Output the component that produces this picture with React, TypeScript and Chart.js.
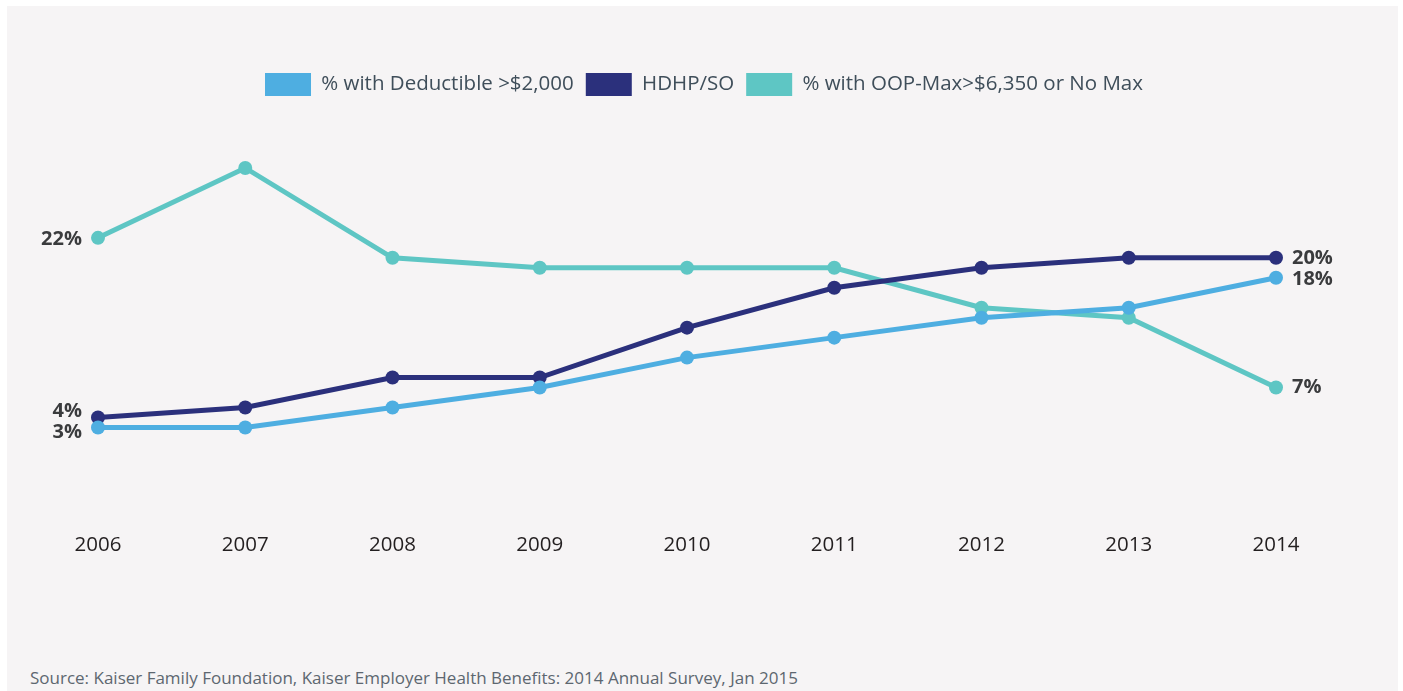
import React, { useEffect, useRef } from "react";
import { Chart, registerables } from "chart.js";

Chart.register(...registerables);

const years = ["2006", "2007", "2008", "2009", "2010", "2011", "2012", "2013", "2014"];
const deductibleOver2000 = [3, 3, 5, 7, 10, 12, 14, 15, 18];
const hdhpSo = [4, 5, 8, 8, 13, 17, 19, 20, 20];
const oopMaxOrNoMax = [22, 29, 20, 19, 19, 19, 15, 14, 7];
const seriesNames = ["% with Deductible >$2,000", "HDHP/SO", "% with OOP-Max>$6,350 or No Max"];
const sourceText = "Source: Kaiser Family Foundation, Kaiser Employer Health Benefits: 2014 Annual Survey, Jan 2015";

const COLORS = ["#4eaee1", "#2b307c", "#5ec6c4"];
const FONT = "'Open Sans', sans-serif";
// small vertical nudges for end labels [dataset][left,right] to avoid overlaps
const LABEL_DY = [
  [5, 2],
  [-6, 0],
  [1, 0],
];

const endLabels = {
  id: "endLabels",
  afterDatasetsDraw(chart: any) {
    const ctx = chart.ctx;
    ctx.save();
    ctx.font = `bold 20px ${FONT}`;
    ctx.fillStyle = "#3a3b3d";
    ctx.textBaseline = "middle";
    chart.data.datasets.forEach((ds: any, i: number) => {
      const meta = chart.getDatasetMeta(i);
      const pts = meta.data;
      const first = pts[0];
      const last = pts[pts.length - 1];
      ctx.textAlign = "right";
      ctx.fillText(ds.data[0] + "%", first.x - 16, first.y + LABEL_DY[i][0]);
      ctx.textAlign = "left";
      ctx.fillText(ds.data[ds.data.length - 1] + "%", last.x + 16, last.y + LABEL_DY[i][1]);
    });
    ctx.restore();
  },
};

const legendGap = {
  id: "legendGap",
  beforeInit(chart: any) {
    const legend = chart.legend;
    if (!legend) return;
    const orig = legend.fit;
    legend.fit = function () {
      orig.call(this);
      this.height += 52;
    };
  },
};

export default function App() {
  const ref = useRef<HTMLCanvasElement | null>(null);
  useEffect(() => {
    if (!ref.current) return;
    const values = [deductibleOver2000, hdhpSo, oopMaxOrNoMax];
    const defaultLabels = (Chart.defaults as any).plugins.legend.labels.generateLabels;
    const chart = new Chart(ref.current, {
      type: "line",
      data: {
        labels: years,
        datasets: values.map((v, i) => ({
          label: seriesNames[i],
          data: v,
          borderColor: COLORS[i],
          backgroundColor: COLORS[i],
          pointBackgroundColor: COLORS[i],
          pointBorderWidth: 0,
          pointRadius: 7,
          borderWidth: 5,
          clip: false as any,
          tension: 0,
        })),
      },
      options: {
        animation: false,
        responsive: false,
        maintainAspectRatio: false,
        layout: { padding: { left: 91, right: 88, top: 55, bottom: 14 } },
        plugins: {
          tooltip: { enabled: false },
          legend: {
            display: true,
            position: "top",
            labels: {
              boxWidth: 46,
              boxHeight: 23,
              padding: 12,
              color: "#3f4e5a",
              font: { family: FONT, size: 20.5 },
              generateLabels: (c: any) =>
                defaultLabels(c).map((l: any) => ({ ...l, lineWidth: 0, strokeStyle: l.fillStyle })),
            },
          },
        },
        scales: {
          x: {
            offset: false,
            grid: { display: false, drawTicks: false },
            border: { display: false },
            ticks: {
              padding: 75,
              color: "#231f20",
              font: { family: FONT, size: 20.5 },
              maxRotation: 0,
            },
            afterFit(s: any) {
              s.paddingLeft = 0;
              s.paddingRight = 0;
            },
          },
          y: {
            display: true,
            position: "right",
            min: 0,
            max: 30,
            grid: { display: false, drawTicks: false },
            border: { display: false },
            ticks: { display: false },
            afterFit(s: any) {
              s.width = 34;
              s.paddingTop = 0;
              s.paddingBottom = 0;
            },
          },
        },
      },
      plugins: [endLabels, legendGap],
    });
    return () => chart.destroy();
  }, []);

  return (
    <div style={{ position: "absolute", left: 0, top: 0, width: 1403, height: 691, background: "#ffffff" }}>
      <div
        style={{
          position: "absolute",
          left: 7,
          top: 6,
          width: 1391,
          height: 685,
          background: "#f6f4f5",
          overflow: "hidden",
        }}
      >
        <canvas ref={ref} width={1391} height={640} style={{ display: "block" }} />
        <div
          style={{
            position: "absolute",
            left: 23,
            top: 661,
            fontFamily: FONT,
            fontSize: 17,
            color: "#5d6770",
            whiteSpace: "nowrap",
            lineHeight: "22px",
          }}
        >
          {sourceText}
        </div>
      </div>
    </div>
  );
}
